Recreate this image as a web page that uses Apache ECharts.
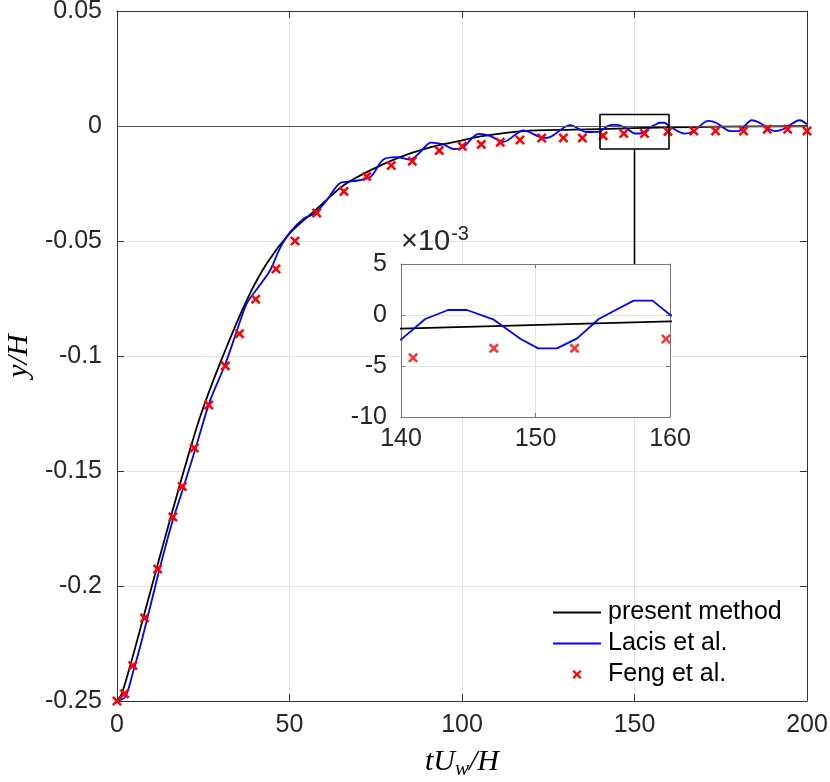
<!DOCTYPE html>
<html>
<head>
<meta charset="utf-8">
<script src="https://cdn.jsdelivr.net/npm/echarts@6/dist/echarts.min.js"></script>
<style>
html, body { margin: 0; padding: 0; background: #fff; }
#chart { width: 830px; height: 782px; }
</style>
</head>
<body>
<div id="chart"></div>
<script>
// present method (black)
var presentT = [0, 1.4, 4.8, 11.6, 18.3, 24.1, 30.2, 37.6, 43.4, 50.2, 57.5, 65.7, 73.4, 82.1, 91.8, 99.5, 105.3, 117.8, 132.3, 140, 160, 175, 200];
var presentY = [-0.25, -0.2468, -0.2294, -0.1917, -0.1555, -0.1264, -0.1019, -0.0758, -0.0598, -0.0465, -0.0366, -0.0258, -0.0193, -0.0135, -0.0089, -0.0065, -0.0045, -0.0022, -0.0016, -0.00134, -0.00062, -0.0003, -0.0001];

// Lacis et al. (blue)
var lacisT = [0, 2.4, 4.8, 7.2, 12.0, 15.9, 19.3, 23.2, 27.0, 31.4, 34.8, 37.6, 41.0, 44.4, 47.3, 50.2, 54.1, 57.5, 60.8, 64.7, 68.5, 73.4, 77.2, 81.1, 85.0, 87.9, 91.0, 94.6, 97.5, 100.4, 104.8, 108.1, 112.0, 117.8, 122.6, 124.6, 131.3, 136.1,
    140, 141.8, 143.5, 144.9, 146.9, 148.9, 150.2, 151.6, 153.1, 154.7, 156.0, 157.3, 158.7, 160,
    164.6, 167.1, 171.4, 173.8, 177.7, 180.1, 184.0, 185.9, 190.7, 193.1, 197.9, 200];
var lacisY = [-0.25, -0.2482, -0.2366, -0.2236, -0.1946, -0.1728, -0.157, -0.138, -0.1193, -0.1035, -0.0888, -0.0772, -0.0700, -0.0627, -0.0530, -0.0461, -0.0403, -0.0378, -0.0323, -0.0248, -0.0240, -0.0222, -0.0146, -0.0135, -0.0146, -0.0113, -0.0072, -0.0080, -0.0100, -0.0091, -0.0034, -0.0043, -0.0069, -0.0019, -0.0048, -0.0052, 0.0004, -0.0026,
    -0.00242, -0.00039, 0.00049, 0.00049, -0.00046, -0.00235, -0.00327, -0.00327, -0.00229, -0.00039, 0.00052, 0.00141, 0.00141, 0.00003,
    -0.0033, -0.0023, 0.0022, 0.0013, -0.0022, -0.0022, 0.0025, 0.0017, -0.0022, -0.0014, 0.0025, 0.0007];

// Feng et al. (red crosses)
var fengT = [0, 2.2, 4.6, 8.0, 11.8, 16.2, 18.9, 22.4, 26.6, 31.4, 35.5, 40.2, 46.1, 51.6, 57.9, 65.8, 72.4, 79.5, 85.6, 93.4, 100.1, 105.6, 111.1, 116.8, 123.1, 129.4, 134.9, 140.9, 146.9, 152.9, 159.7, 167.2, 173.5, 181.6, 188.5, 194.4, 200];
var fengY = [-0.25, -0.2468, -0.2346, -0.2139, -0.1926, -0.170, -0.1567, -0.140, -0.1213, -0.1043, -0.0903, -0.0753, -0.0622, -0.050, -0.0378, -0.0285, -0.022, -0.0172, -0.0153, -0.0107, -0.0088, -0.008, -0.0071, -0.0061, -0.0052, -0.0052, -0.0052, -0.0042, -0.00327, -0.00327, -0.00235, -0.0022, -0.0022, -0.0022, -0.0014, -0.0014, -0.0022];

// axes ranges [min, max, interval]
var mainX = [0, 200, 50];
var mainY = [-0.25, 0.05, 0.05];
var zoomX = [140, 160, 10];
var zoomY = [-0.01, 0.005, 0.005];
var insetTopY = -0.0603; // main-axis value at the inset's top edge

var SANS = 'Liberation Sans, Arial, Helvetica, sans-serif';
var SERIF = 'Liberation Serif, Times New Roman, serif';
var CROSS = 'path://M0,1.8L1.8,0L5,3.2L8.2,0L10,1.8L6.8,5L10,8.2L8.2,10L5,6.8L1.8,10L0,8.2L3.2,5Z';
var LINE_ICON = 'path://M0,0L48,0L48,2L0,2Z';

function pairs(xs, ys) {
    return xs.map(function (x, i) { return [x, ys[i]]; });
}

function axisBase(range, grid, color, tickLen) {
    return {
        type: 'value', gridIndex: grid,
        min: range[0], max: range[1], interval: range[2],
        axisLine: { show: true, onZero: false, lineStyle: { color: color, width: 1 } },
        axisTick: { show: true, inside: true, length: tickLen, lineStyle: { color: color } },
        splitLine: { show: false },
        axisLabel: { show: false }
    };
}

var labelStyle = { show: true, fontSize: 25, color: '#262626', fontFamily: SANS };
var gridLine = { show: true, lineStyle: { color: '#e3e3e3', width: 1 } };

// main axes
var xMain = axisBase(mainX, 0, '#333', 7);
xMain.axisLabel = Object.assign({ margin: 12 }, labelStyle);
xMain.splitLine = gridLine;
xMain.name = '{i|tU}{s|w}{i|/H}';
xMain.nameLocation = 'middle';
xMain.nameGap = 44;
xMain.nameTextStyle = {
    rich: {
        i: { fontFamily: SERIF, fontStyle: 'italic', fontSize: 30, color: '#000' },
        s: { fontFamily: SERIF, fontStyle: 'italic', fontSize: 21, color: '#000', padding: [14, 0, 0, 0] }
    }
};
var xMainTop = axisBase(mainX, 0, '#333', 7);
xMainTop.position = 'top';

var yMain = axisBase(mainY, 0, '#333', 7);
yMain.axisLabel = Object.assign({ margin: 15, formatter: function (v) { return String(+v.toFixed(2)); } }, labelStyle);
yMain.splitLine = gridLine;
yMain.name = '{i|y/H}';
yMain.nameLocation = 'middle';
yMain.nameGap = 82;
yMain.nameTextStyle = {
    rich: { i: { fontFamily: SERIF, fontStyle: 'italic', fontSize: 30, color: '#000' } }
};
var yMainRight = axisBase(mainY, 0, '#333', 7);
yMainRight.position = 'right';

// inset axes
var xIn = axisBase(zoomX, 1, '#777', 4);
xIn.axisLabel = Object.assign({ margin: 10 }, labelStyle);
xIn.splitLine = gridLine;
var xInTop = axisBase(zoomX, 1, '#777', 4);
xInTop.position = 'top';
var yIn = axisBase(zoomY, 1, '#777', 4);
yIn.axisLabel = Object.assign({ margin: 14, formatter: function (v) { return String(Math.round(v * 1000)); } }, labelStyle);
yIn.splitLine = gridLine;
yIn.name = '{a|×10}{e|-3}';
yIn.nameLocation = 'end';
yIn.nameGap = 4;
yIn.nameTextStyle = {
    align: 'left',
    rich: {
        a: { fontSize: 29, fontFamily: SANS, color: '#262626' },
        e: { fontSize: 20, fontFamily: SANS, color: '#262626', padding: [0, 0, 16, 1] }
    }
};
var yInRight = axisBase(zoomY, 1, '#777', 4);
yInRight.position = 'right';

[xIn, xInTop, yIn, yInRight].forEach(function (a) { a.z = 11; });

var boxPts = [[zoomX[0], zoomY[0]], [zoomX[1], zoomY[0]], [zoomX[1], zoomY[1]], [zoomX[0], zoomY[1]], [zoomX[0], zoomY[0]]];
var connector = [[(zoomX[0] + zoomX[1]) / 2, zoomY[0]], [(zoomX[0] + zoomX[1]) / 2, insetTopY]];

var option = {
    animation: false,
    backgroundColor: '#fff',
    grid: [
        { left: 117, top: 11, right: 23, bottom: 81, outerBoundsMode: 'none', containLabel: false },
        { left: 401, top: 264, width: 269, height: 153, show: true, backgroundColor: '#fff', borderWidth: 0, z: 10, outerBoundsMode: 'none', containLabel: false }
    ],
    xAxis: [xMain, xMainTop, xIn, xInTop],
    yAxis: [yMain, yMainRight, yIn, yInRight],
    legend: {
        orient: 'vertical', left: 548, top: 595,
        itemWidth: 48, itemHeight: 9, itemGap: 6,
        textStyle: { fontSize: 25, color: '#000', fontFamily: SANS, lineHeight: 25, padding: [0, 0, 0, 2] },
        data: [
            { name: 'present method', icon: LINE_ICON },
            { name: 'Lacis et al.', icon: LINE_ICON },
            { name: 'Feng et al.', icon: CROSS }
        ]
    },
    series: [
        {
            name: 'present method', type: 'line', xAxisIndex: 0, yAxisIndex: 0,
            data: pairs(presentT, presentY), showSymbol: false, symbol: 'none', smooth: 0.3,
            lineStyle: { color: '#000', width: 1.8 }, itemStyle: { color: '#000' }, z: 3,
            markLine: {
                silent: true, symbol: 'none', label: { show: false },
                lineStyle: { color: '#555', width: 1, type: 'solid' },
                data: [{ yAxis: 0 }]
            }
        },
        {
            name: 'Lacis et al.', type: 'line', xAxisIndex: 0, yAxisIndex: 0,
            data: pairs(lacisT, lacisY), showSymbol: false, symbol: 'none', smooth: 0.3,
            lineStyle: { color: '#0000ff', width: 1.8 }, itemStyle: { color: '#0000ff' }, z: 4
        },
        {
            name: 'Feng et al.', type: 'scatter', xAxisIndex: 0, yAxisIndex: 0,
            data: pairs(fengT, fengY), symbol: CROSS, symbolSize: 10, symbolKeepAspect: true,
            itemStyle: { color: '#ff0000', opacity: 1 }, clip: false, z: 5
        },
        {
            type: 'line', xAxisIndex: 0, yAxisIndex: 0, data: boxPts, symbol: 'none',
            lineStyle: { color: '#000', width: 1.6 }, silent: true, z: 6
        },
        {
            type: 'line', xAxisIndex: 0, yAxisIndex: 0, data: connector, symbol: 'none',
            lineStyle: { color: '#000', width: 1.6 }, silent: true, z: 6
        },
        // inset
        {
            type: 'line', xAxisIndex: 2, yAxisIndex: 2,
            data: pairs(presentT, presentY), symbol: 'none',
            lineStyle: { color: '#000', width: 1.8 }, z: 12, silent: true
        },
        {
            type: 'line', xAxisIndex: 2, yAxisIndex: 2,
            data: pairs(lacisT, lacisY), symbol: 'none',
            lineStyle: { color: '#0000ff', width: 1.8 }, z: 13, silent: true
        },
        {
            type: 'scatter', xAxisIndex: 2, yAxisIndex: 2,
            data: pairs(fengT, fengY).filter(function (p) { return p[0] >= zoomX[0] && p[0] <= zoomX[1]; }),
            symbol: CROSS, symbolSize: 10, symbolKeepAspect: true,
            itemStyle: { color: '#ff0000' }, z: 14, silent: true
        }
    ]
};

var myChart = echarts.init(document.getElementById('chart'));
myChart.setOption(option);
</script>
</body>
</html>
